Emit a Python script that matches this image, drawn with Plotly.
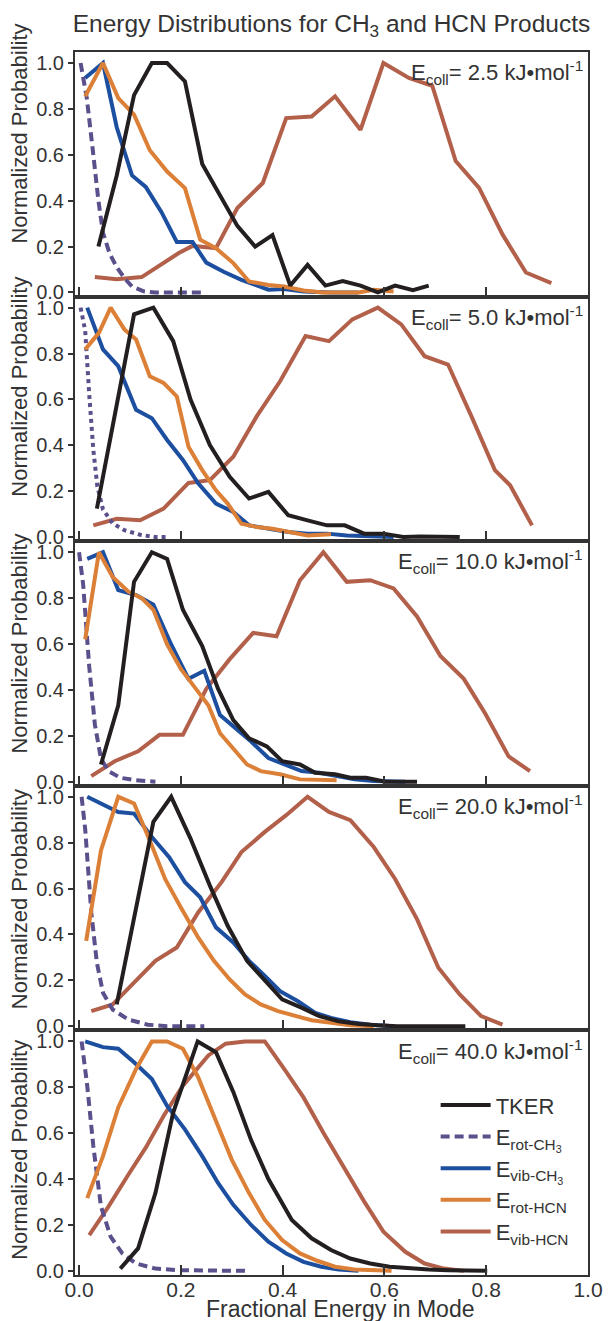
import plotly.graph_objects as go
from plotly.subplots import make_subplots

# ---------------- data ----------------
ecoll_labels = ["2.5", "5.0", "10.0", "20.0", "40.0"]

# Panel 1: Ecoll = 2.5
tker_x_1 = [0.038, 0.074, 0.108, 0.143, 0.173, 0.208, 0.242, 0.277, 0.311, 0.346, 0.380, 0.415, 0.449, 0.484, 0.518, 0.553, 0.587, 0.621, 0.656, 0.687]
tker_y_1 = [0.20, 0.51, 0.86, 1.00, 1.00, 0.92, 0.56, 0.42, 0.29, 0.20, 0.25, 0.03, 0.12, 0.03, 0.05, 0.03, 0.00, 0.03, 0.01, 0.03]
rotch3_x_1 = [0.003, 0.015, 0.027, 0.038, 0.047, 0.060, 0.074, 0.090, 0.104, 0.127, 0.150, 0.200, 0.246]
rotch3_y_1 = [1.00, 0.85, 0.62, 0.40, 0.26, 0.17, 0.11, 0.06, 0.026, 0.005, 0.0, 0.0, 0.0]
vibch3_x_1 = [0.012, 0.047, 0.074, 0.104, 0.131, 0.162, 0.192, 0.223, 0.250, 0.284, 0.319, 0.372, 0.403, 0.441, 0.495, 0.549]
vibch3_y_1 = [0.935, 1.00, 0.72, 0.51, 0.46, 0.35, 0.22, 0.22, 0.13, 0.09, 0.055, 0.012, 0.015, 0.004, 0.0, 0.0]
rothcn_x_1 = [0.012, 0.047, 0.077, 0.108, 0.139, 0.173, 0.208, 0.238, 0.269, 0.303, 0.334, 0.372, 0.403, 0.441, 0.479, 0.510, 0.549, 0.579, 0.618]
rothcn_y_1 = [0.855, 1.00, 0.847, 0.775, 0.62, 0.527, 0.455, 0.23, 0.193, 0.128, 0.048, 0.033, 0.026, 0.009, 0.0, 0.0, 0.0, 0.012, 0.004]
vibhcn_x_1 = [0.031, 0.074, 0.123, 0.166, 0.196, 0.223, 0.269, 0.311, 0.361, 0.407, 0.457, 0.503, 0.553, 0.598, 0.648, 0.694, 0.740, 0.786, 0.832, 0.878, 0.928]
vibhcn_y_1 = [0.067, 0.058, 0.067, 0.128, 0.172, 0.203, 0.193, 0.368, 0.477, 0.76, 0.767, 0.855, 0.709, 1.00, 0.935, 0.901, 0.573, 0.456, 0.253, 0.087, 0.041]

# Panel 2: Ecoll = 5.0
tker_x_2 = [0.035, 0.108, 0.146, 0.185, 0.219, 0.257, 0.296, 0.334, 0.372, 0.411, 0.449, 0.487, 0.522, 0.560, 0.598, 0.637, 0.671, 0.710, 0.748]
tker_y_2 = [0.124, 0.971, 1.00, 0.854, 0.599, 0.401, 0.263, 0.168, 0.197, 0.095, 0.073, 0.051, 0.051, 0.015, 0.015, 0.0, 0.003, 0.0, 0.0]
rotch3_x_2 = [0.003, 0.012, 0.020, 0.028, 0.036, 0.047, 0.066, 0.089, 0.120, 0.150, 0.177]
rotch3_y_2 = [1.00, 0.90, 0.62, 0.38, 0.22, 0.12, 0.06, 0.03, 0.01, 0.0, 0.0]
vibch3_x_2 = [0.016, 0.047, 0.077, 0.112, 0.143, 0.173, 0.204, 0.234, 0.269, 0.303, 0.334, 0.372, 0.411, 0.449, 0.487, 0.526, 0.564, 0.618]
vibch3_y_2 = [1.00, 0.818, 0.745, 0.555, 0.518, 0.423, 0.336, 0.234, 0.146, 0.109, 0.051, 0.036, 0.022, 0.015, 0.015, 0.007, 0.003, 0.0]
rothcn_x_2 = [0.012, 0.039, 0.062, 0.089, 0.112, 0.139, 0.166, 0.192, 0.215, 0.242, 0.269, 0.292, 0.319, 0.349, 0.380, 0.415, 0.449, 0.495]
rothcn_y_2 = [0.818, 0.89, 1.00, 0.905, 0.861, 0.701, 0.672, 0.613, 0.394, 0.292, 0.204, 0.146, 0.058, 0.044, 0.036, 0.022, 0.007, 0.012]
vibhcn_x_2 = [0.028, 0.074, 0.120, 0.166, 0.215, 0.257, 0.303, 0.349, 0.395, 0.445, 0.491, 0.537, 0.587, 0.633, 0.679, 0.725, 0.771, 0.817, 0.847, 0.890]
vibhcn_y_2 = [0.051, 0.08, 0.073, 0.124, 0.236, 0.248, 0.35, 0.526, 0.679, 0.876, 0.854, 0.949, 1.00, 0.927, 0.788, 0.752, 0.526, 0.292, 0.226, 0.051]

# Panel 3: Ecoll = 10.0
tker_x_3 = [0.043, 0.077, 0.108, 0.143, 0.173, 0.204, 0.242, 0.273, 0.303, 0.334, 0.369, 0.399, 0.434, 0.464, 0.503, 0.533, 0.564, 0.602, 0.633, 0.664]
tker_y_3 = [0.075, 0.333, 0.871, 1.00, 0.971, 0.749, 0.591, 0.405, 0.268, 0.189, 0.154, 0.089, 0.075, 0.039, 0.032, 0.017, 0.017, 0.0, 0.0, 0.0]
rotch3_x_3 = [0.0, 0.008, 0.020, 0.031, 0.043, 0.058, 0.081, 0.112, 0.150]
rotch3_y_3 = [1.00, 0.86, 0.50, 0.25, 0.10, 0.046, 0.017, 0.006, 0.0]
vibch3_x_3 = [0.016, 0.047, 0.077, 0.112, 0.146, 0.181, 0.215, 0.246, 0.277, 0.307, 0.338, 0.372, 0.403, 0.437, 0.472, 0.503, 0.541, 0.579, 0.641]
vibch3_y_3 = [0.971, 1.00, 0.835, 0.813, 0.771, 0.598, 0.448, 0.483, 0.29, 0.232, 0.175, 0.103, 0.075, 0.046, 0.039, 0.024, 0.01, 0.003, 0.0]
rothcn_x_3 = [0.012, 0.039, 0.066, 0.097, 0.123, 0.146, 0.173, 0.200, 0.227, 0.254, 0.277, 0.303, 0.330, 0.357, 0.395, 0.434, 0.472, 0.506]
rothcn_y_3 = [0.62, 1.00, 0.892, 0.828, 0.80, 0.749, 0.598, 0.491, 0.412, 0.333, 0.211, 0.146, 0.075, 0.046, 0.032, 0.01, 0.006, 0.006]
vibhcn_x_3 = [0.024, 0.070, 0.116, 0.158, 0.204, 0.250, 0.296, 0.342, 0.388, 0.434, 0.480, 0.526, 0.572, 0.618, 0.664, 0.710, 0.756, 0.798, 0.844, 0.886]
vibhcn_y_3 = [0.024, 0.089, 0.132, 0.204, 0.204, 0.405, 0.534, 0.648, 0.634, 0.878, 1.00, 0.871, 0.878, 0.842, 0.72, 0.548, 0.448, 0.297, 0.11, 0.046]

# Panel 4: Ecoll = 20.0
tker_x_4 = [0.074, 0.146, 0.181, 0.219, 0.257, 0.292, 0.330, 0.365, 0.399, 0.438, 0.472, 0.510, 0.549, 0.587, 0.625, 0.687, 0.759]
tker_y_4 = [0.095, 0.891, 1.00, 0.818, 0.613, 0.438, 0.285, 0.197, 0.117, 0.08, 0.044, 0.022, 0.01, 0.004, 0.0, 0.0, 0.0]
rotch3_x_4 = [0.005, 0.012, 0.024, 0.035, 0.047, 0.066, 0.097, 0.135, 0.173, 0.246]
rotch3_y_4 = [1.00, 0.86, 0.496, 0.277, 0.146, 0.073, 0.029, 0.007, 0.0, 0.0]
vibch3_x_4 = [0.016, 0.047, 0.077, 0.108, 0.143, 0.177, 0.208, 0.238, 0.269, 0.303, 0.334, 0.365, 0.395, 0.430, 0.464, 0.495, 0.533, 0.572, 0.618]
vibch3_y_4 = [1.00, 0.964, 0.934, 0.927, 0.825, 0.737, 0.628, 0.562, 0.431, 0.365, 0.285, 0.219, 0.153, 0.109, 0.058, 0.036, 0.018, 0.007, 0.0]
rothcn_x_4 = [0.014, 0.043, 0.077, 0.108, 0.139, 0.169, 0.200, 0.234, 0.265, 0.296, 0.326, 0.357, 0.391, 0.426, 0.457, 0.495, 0.533, 0.579]
rothcn_y_4 = [0.372, 0.766, 1.00, 0.971, 0.81, 0.642, 0.518, 0.387, 0.285, 0.204, 0.139, 0.095, 0.066, 0.044, 0.026, 0.015, 0.004, 0.0]
vibhcn_x_4 = [0.024, 0.066, 0.108, 0.150, 0.192, 0.234, 0.280, 0.319, 0.365, 0.407, 0.449, 0.491, 0.533, 0.579, 0.621, 0.664, 0.706, 0.748, 0.790, 0.832]
vibhcn_y_4 = [0.066, 0.095, 0.19, 0.285, 0.343, 0.496, 0.628, 0.759, 0.847, 0.92, 1.00, 0.934, 0.898, 0.781, 0.642, 0.467, 0.255, 0.139, 0.044, 0.007]

# Panel 5: Ecoll = 40.0
tker_x_5 = [0.081, 0.116, 0.150, 0.185, 0.233, 0.269, 0.303, 0.338, 0.372, 0.418, 0.457, 0.495, 0.533, 0.572, 0.610, 0.648, 0.687, 0.725, 0.802]
tker_y_5 = [0.01, 0.098, 0.339, 0.69, 1.00, 0.953, 0.78, 0.57, 0.40, 0.222, 0.142, 0.091, 0.054, 0.032, 0.018, 0.01, 0.006, 0.003, 0.0]
rotch3_x_5 = [0.005, 0.016, 0.028, 0.043, 0.062, 0.085, 0.112, 0.150, 0.196, 0.326]
rotch3_y_5 = [1.00, 0.807, 0.544, 0.281, 0.149, 0.076, 0.032, 0.01, 0.003, 0.0]
vibch3_x_5 = [0.012, 0.047, 0.077, 0.108, 0.143, 0.173, 0.208, 0.242, 0.273, 0.303, 0.338, 0.372, 0.407, 0.441, 0.476, 0.510, 0.549]
vibch3_y_5 = [1.00, 0.975, 0.968, 0.909, 0.836, 0.719, 0.617, 0.50, 0.383, 0.288, 0.20, 0.127, 0.076, 0.039, 0.018, 0.006, 0.0]
rothcn_x_5 = [0.016, 0.047, 0.077, 0.112, 0.143, 0.173, 0.204, 0.234, 0.265, 0.300, 0.334, 0.365, 0.399, 0.434, 0.468, 0.503, 0.541, 0.614]
rothcn_y_5 = [0.317, 0.50, 0.712, 0.88, 1.00, 1.00, 0.968, 0.844, 0.675, 0.485, 0.339, 0.222, 0.134, 0.076, 0.044, 0.018, 0.006, 0.0]
vibhcn_x_5 = [0.020, 0.058, 0.097, 0.131, 0.166, 0.204, 0.254, 0.288, 0.326, 0.365, 0.403, 0.441, 0.480, 0.518, 0.560, 0.598, 0.641, 0.679, 0.717, 0.756]
vibhcn_y_5 = [0.156, 0.281, 0.42, 0.537, 0.675, 0.807, 0.939, 0.99, 1.00, 1.00, 0.88, 0.756, 0.602, 0.456, 0.303, 0.171, 0.083, 0.032, 0.01, 0.0]

y_ticks = [0.0, 0.2, 0.4, 0.6, 0.8, 1.0]
x_ticks = [0.0, 0.2, 0.4, 0.6, 0.8, 1.0]

# ---------------- figure ----------------
panels = [
    (tker_x_1, tker_y_1, rotch3_x_1, rotch3_y_1, vibch3_x_1, vibch3_y_1, rothcn_x_1, rothcn_y_1, vibhcn_x_1, vibhcn_y_1),
    (tker_x_2, tker_y_2, rotch3_x_2, rotch3_y_2, vibch3_x_2, vibch3_y_2, rothcn_x_2, rothcn_y_2, vibhcn_x_2, vibhcn_y_2),
    (tker_x_3, tker_y_3, rotch3_x_3, rotch3_y_3, vibch3_x_3, vibch3_y_3, rothcn_x_3, rothcn_y_3, vibhcn_x_3, vibhcn_y_3),
    (tker_x_4, tker_y_4, rotch3_x_4, rotch3_y_4, vibch3_x_4, vibch3_y_4, rothcn_x_4, rothcn_y_4, vibhcn_x_4, vibhcn_y_4),
    (tker_x_5, tker_y_5, rotch3_x_5, rotch3_y_5, vibch3_x_5, vibch3_y_5, rothcn_x_5, rothcn_y_5, vibhcn_x_5, vibhcn_y_5),
]

C_BLACK = "#231f20"
C_PURPLE = "#5b4f8c"
C_BLUE = "#1c4f9f"
C_ORANGE = "#dc8038"
C_BROWN = "#b3604b"
LW = 4
FONT = "Liberation Sans, Arial, Helvetica, sans-serif"
TXT = "#333333"

fig = make_subplots(rows=5, cols=1, vertical_spacing=0)

for i, p in enumerate(panels):
    r = i + 1
    tx, ty, pcx, pcy, vcx, vcy, rhx, rhy, vhx, vhy = p
    show = (r == 5)
    purple_dash = "4px,4px" if r == 2 else "9px,5px"
    fig.add_trace(go.Scatter(x=vhx, y=vhy, mode="lines", name="E<sub>vib-HCN</sub>",
                             line=dict(color=C_BROWN, width=LW), showlegend=show, legendrank=5), row=r, col=1)
    fig.add_trace(go.Scatter(x=pcx, y=pcy, mode="lines", name="E<sub>rot-CH<sub>3</sub></sub>",
                             line=dict(color=C_PURPLE, width=LW, dash=purple_dash), showlegend=show, legendrank=2), row=r, col=1)
    fig.add_trace(go.Scatter(x=vcx, y=vcy, mode="lines", name="E<sub>vib-CH<sub>3</sub></sub>",
                             line=dict(color=C_BLUE, width=LW), showlegend=show, legendrank=3), row=r, col=1)
    fig.add_trace(go.Scatter(x=rhx, y=rhy, mode="lines", name="E<sub>rot-HCN</sub>",
                             line=dict(color=C_ORANGE, width=LW), showlegend=show, legendrank=4), row=r, col=1)
    fig.add_trace(go.Scatter(x=tx, y=ty, mode="lines", name="TKER",
                             line=dict(color=C_BLACK, width=LW), showlegend=show, legendrank=1), row=r, col=1)

    fig.update_xaxes(row=r, col=1, range=[-0.008, 1.0], tickvals=x_ticks, tickformat=".1f",
                     ticks="inside", ticklen=10, tickwidth=2, tickcolor="#333",
                     showline=True, mirror=True, linewidth=2, linecolor="#333",
                     showgrid=False, zeroline=False, showticklabels=(r == 5),
                     ticklabelstandoff=-5,
                     tickfont=dict(size=21, color=TXT, family=FONT))
    fig.update_yaxes(row=r, col=1, range=[-0.018, 1.048], tickvals=y_ticks, tickformat=".1f",
                     ticks="outside", ticklen=5, tickwidth=2, tickcolor="#333",
                     showline=True, mirror=True, linewidth=2, linecolor="#333",
                     showgrid=False, zeroline=False,
                     tickfont=dict(size=20, color=TXT, family=FONT))

    xd = "x domain" if r == 1 else f"x{r} domain"
    yd = "y domain" if r == 1 else f"y{r} domain"
    fig.add_annotation(xref=xd, yref=yd, x=0.995, y=0.915, xanchor="right", yanchor="middle",
                       text=f"E<sub>coll</sub>= {ecoll_labels[i]} kJ•mol<sup>-1</sup>", showarrow=False,
                       font=dict(size=22, color=TXT, family=FONT))

# y-axis titles as annotations (per panel)
ytitle_pos = [0.933, 0.726, 0.516, 0.307, 0.102]
for yp in ytitle_pos:
    fig.add_annotation(xref="paper", yref="paper", x=-0.108, y=yp, xanchor="center", yanchor="middle",
                       text="Normalized Probability", textangle=-90, showarrow=False,
                       font=dict(size=22, color=TXT, family=FONT))

fig.add_annotation(xref="paper", yref="paper", x=0.516, y=-0.0275, xanchor="center", yanchor="middle",
                   text="Fractional Energy in Mode", showarrow=False,
                   font=dict(size=23, color=TXT, family=FONT))

fig.update_layout(
    width=615, height=1321,
    margin=dict(l=75, r=21, t=52, b=46),
    paper_bgcolor="white", plot_bgcolor="white",
    font=dict(family=FONT, color=TXT),
    title=dict(text="Energy Distributions for CH<sub>3</sub> and HCN Products",
               x=0.5, xref="paper", xanchor="center", y=1 - 23 / 1321, yanchor="middle",
               font=dict(size=24.5, color=TXT, family=FONT)),
    legend=dict(x=0.703, y=0.156, xanchor="left", yanchor="top", bgcolor="rgba(0,0,0,0)",
                font=dict(size=22, color=TXT, family=FONT), itemwidth=50, tracegroupgap=0),
)

fig.write_html("out.html")
